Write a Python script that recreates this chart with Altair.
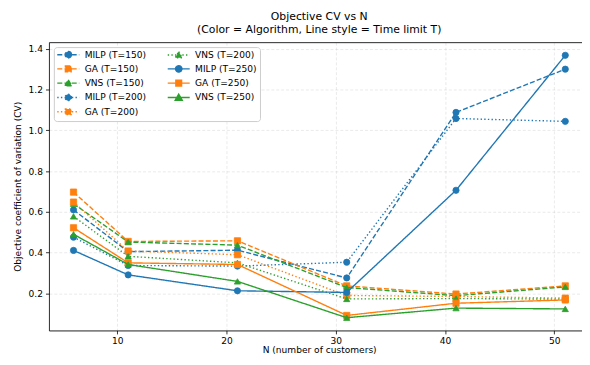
import altair as alt
import pandas as pd

# ---------------- data ----------------
N = [6, 11, 21, 31, 41, 51]

MILP_T150 = [0.610, 0.405, 0.412, 0.276, 1.088, 1.300]
GA_T150 = [0.697, 0.455, 0.458, 0.237, 0.197, 0.237]
VNS_T150 = [0.640, 0.452, 0.437, 0.229, 0.189, 0.232]
MILP_T200 = [0.476, 0.337, 0.334, 0.353, 1.058, 1.044]
GA_T200 = [0.648, 0.408, 0.390, 0.190, 0.185, 0.177]
VNS_T200 = [0.578, 0.382, 0.350, 0.173, 0.175, 0.172]
MILP_T250 = [0.411, 0.291, 0.213, 0.205, 0.706, 1.368]
GA_T250 = [0.522, 0.350, 0.342, 0.092, 0.152, 0.168]
VNS_T250 = [0.490, 0.342, 0.259, 0.081, 0.128, 0.124]

ALGORITHMS = ["MILP", "GA", "VNS"]
TIME_LIMITS = [150, 200, 250]
SERIES_VALUES = {
    ("MILP", 150): MILP_T150, ("GA", 150): GA_T150, ("VNS", 150): VNS_T150,
    ("MILP", 200): MILP_T200, ("GA", 200): GA_T200, ("VNS", 200): VNS_T200,
    ("MILP", 250): MILP_T250, ("GA", 250): GA_T250, ("VNS", 250): VNS_T250,
}
Y_TICKS = [0.2, 0.4, 0.6, 0.8, 1.0, 1.2, 1.4]
X_TICKS = [10, 20, 30, 40, 50]

TITLE = ["Objective CV vs N", "(Color = Algorithm, Line style = Time limit T)"]
X_TITLE = "N (number of customers)"
Y_TITLE = "Objective coefficient of variation (CV)"

# ---------------- styles ----------------
COLORS = {"MILP": "#1f77b4", "GA": "#ff7f0e", "VNS": "#2ca02c"}
SHAPES = {"MILP": "circle", "GA": "square", "VNS": "triangle-up"}
DASHES = {150: [5.1, 2.2], 200: [1.4, 2.3], 250: [1, 0]}
LEGEND_PATHS = {
    "MILP": "M-3.44,0H3.44M1,0A1,1,0,1,1,-1,0A1,1,0,1,1,1,0Z",
    "GA": "M-3.44,0H3.44M-0.9,-0.9H0.9V0.9H-0.9Z",
    "VNS": "M-3.44,0H3.44M0,-1.05L1.1,0.85H-1.1Z",
}
FONT = "DejaVu Sans"
W, H = 540.5, 292.3
X_DOMAIN = [3.75, 52.53]
Y_DOMAIN = [0.0185, 1.4325]

rows = []
order = []
for T in TIME_LIMITS:
    for algo in ALGORITHMS:
        label = f"{algo} (T={T})"
        order.append((label, algo, T))
        for n, v in zip(N, SERIES_VALUES[(algo, T)]):
            rows.append({"N": n, "cv": v, "series": label, "algo": algo, "T": T})
df = pd.DataFrame(rows)

# vega fills the 2-column legend column by column, as matplotlib does
lg_domain = [s[0] for s in order]
lg_colors = [COLORS[s[1]] for s in order]
lg_paths = [LEGEND_PATHS[s[1]] for s in order]
lg_dashes = [DASHES[s[2]] for s in order]

x_scale = alt.Scale(domain=X_DOMAIN, nice=False, zero=False)
y_scale = alt.Scale(domain=Y_DOMAIN, nice=False, zero=False)

common_axis = dict(
    grid=True, gridColor="#b0b0b0", gridOpacity=0.35, gridDash=[3, 2], gridWidth=0.8,
    tickSize=3.5, tickColor="black", tickWidth=0.8,
    domainColor="black", domainWidth=0.8,
    labelFont=FONT, labelFontSize=9.2, labelColor="black",
    titleFont=FONT, titleFontSize=9.2, titleFontWeight="normal", titleColor="black",
)
x_axis = alt.Axis(values=X_TICKS, format="d", title=X_TITLE, labelPadding=3,
                  titleX=274, titleY=22.5, titleBaseline="alphabetic", **common_axis)
y_axis = alt.Axis(values=Y_TICKS, format=".1f", title=Y_TITLE, labelPadding=3,
                  titlePadding=6, **common_axis)

layers = []
first = True
for label, algo, T in order:
    base = alt.Chart(df).transform_filter(alt.datum.series == label)
    xa = x_axis if first else None
    line = base.mark_line(color=COLORS[algo], strokeDash=DASHES[T], strokeWidth=1.4).encode(
        x=alt.X("N:Q", scale=x_scale, axis=xa),
        y=alt.Y("cv:Q", scale=y_scale, axis=y_axis),
    )
    first = False
    pts = base.mark_point(shape=SHAPES[algo], filled=True, size=40, opacity=1,
                          color=COLORS[algo], stroke=COLORS[algo], strokeWidth=0.8).encode(
        x=alt.X("N:Q", scale=x_scale, axis=None),
        y=alt.Y("cv:Q", scale=y_scale, axis=y_axis),
    )
    layers += [line, pts]

legend = alt.Legend(
    orient="top-left", columns=2, offset=5, padding=3,
    fillColor="white", strokeColor="#cccccc", cornerRadius=3,
    labelFont=FONT, labelFontSize=9.2, labelColor="black",
    symbolSize=42, symbolStrokeWidth=1.4, symbolOffset=7, labelOffset=12,
    rowPadding=1.5, columnPadding=18, title=None,
)
legend_layer = alt.Chart(df).transform_filter("false").mark_point(
    filled=True, size=42, strokeWidth=1.4, opacity=1
).encode(
    x=alt.X("N:Q", scale=x_scale,
            axis=alt.Axis(orient="top", labels=False, ticks=False, grid=False, domain=True,
                          domainColor="black", domainWidth=0.8, title=None)),
    fill=alt.Fill("series:N", scale=alt.Scale(domain=lg_domain, range=lg_colors), legend=legend, title=None),
    stroke=alt.Stroke("series:N", scale=alt.Scale(domain=lg_domain, range=lg_colors), title=None),
    shape=alt.Shape("series:N", scale=alt.Scale(domain=lg_domain, range=lg_paths), title=None),
    strokeDash=alt.StrokeDash("series:N", scale=alt.Scale(domain=lg_domain, range=lg_dashes), title=None),
)

chart = alt.layer(*layers, legend_layer).resolve_axis(x="independent").properties(
    width=W, height=H,
    autosize=alt.AutoSizeParams(type="none"),
    padding={"left": 41.5, "top": 32.2, "right": 0, "bottom": 24.5},
    title=alt.TitleParams(text=TITLE, font=FONT, fontSize=11, fontWeight="normal",
                          color="black", anchor="middle", offset=7, lineHeight=13, dx=3.8),
).configure_view(stroke="transparent").configure(background="white")

chart.save("out.html", embed_options={"renderer": "svg", "actions": False})
